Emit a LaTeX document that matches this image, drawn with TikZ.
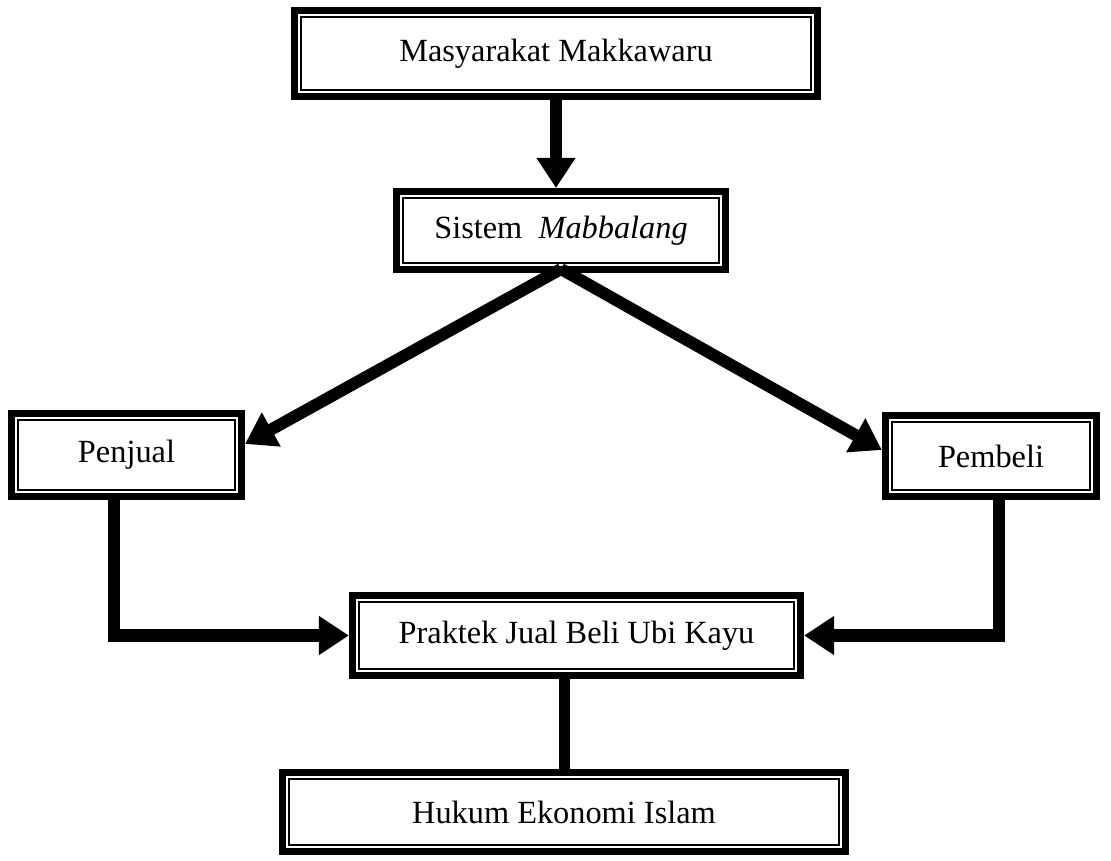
\documentclass[tikz,border=0pt]{standalone}
\usepackage{fontspec}
\setmainfont{Liberation Serif}
\usetikzlibrary{arrows.meta,calc}
\tikzset{
  mb/box/.style={
    draw=black,
    line width=0.0875cm,
    fill=white,
    align=center,
    inner sep=0pt,
    font=\fontsize{11.5}{14}\selectfont,
    path picture={
      \draw[line width=0.03cm]
        ([shift={(0.082cm,0.082cm)}]path picture bounding box.south west) rectangle
        ([shift={(-0.082cm,-0.082cm)}]path picture bounding box.north east);
    }
  },
  mb/arrow/.style={-{Triangle[length=0.375cm,width=0.4625cm]}, line width=0.15cm, draw=black},
  mb/elbow/.style={mb/arrow, line join=miter},
  mb/link/.style={line width=0.1375cm, draw=black}
}

\begin{document}
\begin{tikzpicture}[x=0.0125cm,y=-0.0125cm]
  \useasboundingbox (0,0) rectangle (1111,861);
  % boxes
  \node[mb/box,minimum width=6.54cm,minimum height=1.075cm] (masyarakat) at (556,53.5) {Masyarakat Makkawaru};
  \node[mb/box,minimum width=4.11cm,minimum height=0.975cm] (sistem) at (561,230.5) {Sistem~ \textit{Mabbalang}};
  \node[mb/box,minimum width=2.875cm,minimum height=1.04cm] (penjual) at (126.5,455) {Penjual};
  \node[mb/box,minimum width=2.64cm,minimum height=1.01cm] (pembeli) at (991,456) {Pembeli};
  \node[mb/box,minimum width=5.6cm,minimum height=1.0cm] (praktek) at (576.5,635.5) {Praktek Jual Beli Ubi Kayu};
  \node[mb/box,minimum width=7.04cm,minimum height=0.99cm] (hukum) at (564,812) {Hukum Ekonomi Islam};
  % connectors
  \draw[mb/arrow] (masyarakat.south) -- (masyarakat.south |- sistem.north);
  \coordinate (apex) at ($(sistem.south)+(0,-4)$);
  \draw[mb/arrow] (apex) -- ($(penjual.east)+(0,-11)$);
  \draw[mb/arrow] (apex) -- ($(pembeli.west)+(0,-6)$);
  \draw[mb/elbow] ($(penjual.south)+(-13,0)$) |- (praktek.west);
  \draw[mb/elbow] ($(pembeli.south)+(8,0)$) |- (praktek.east);
  \draw[mb/link] (hukum.north |- praktek.south) -- (hukum.north);
\end{tikzpicture}
\end{document}
